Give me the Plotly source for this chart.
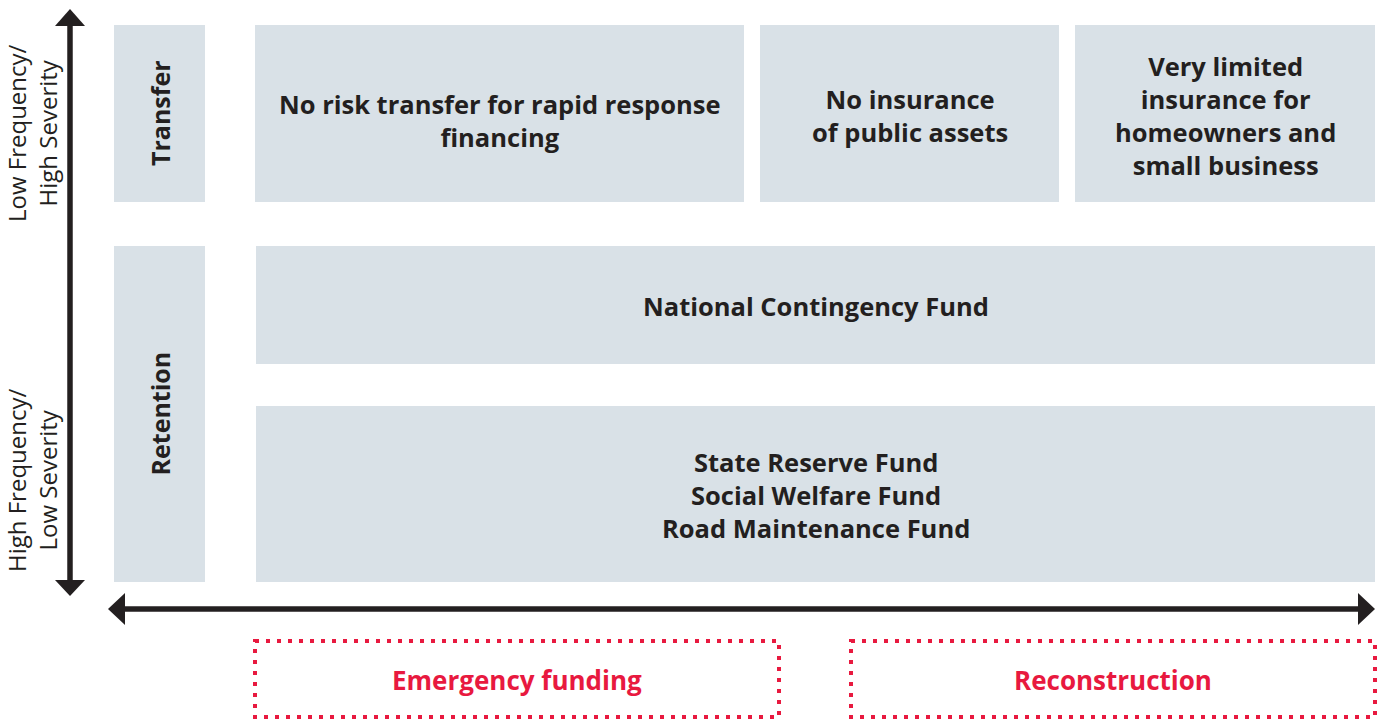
import plotly.graph_objects as go

# diagram content
side_labels = ["Transfer", "Retention"]
transfer_items = ["No risk transfer for rapid response<br>financing",
                  "No insurance<br>of public assets",
                  "Very limited<br>insurance for<br>homeowners and<br>small business"]
retention_items = ["National Contingency Fund",
                   "State Reserve Fund<br>Social Welfare Fund<br>Road Maintenance Fund"]
axis_labels = ["Low Frequency/<br>High Severity", "High Frequency/<br>Low Severity"]
phases = ["Emergency funding", "Reconstruction"]

W, H = 1381, 719
BOX = "#D9E1E7"
INK = "#231F20"
RED = "#E8193F"
FONT = "Open Sans"

# box geometry (x0, x1, y0, y1) in pixels, y downward
side_boxes = [(114, 205, 25, 202), (114, 205, 246, 582)]
transfer_boxes = [(255, 744, 25, 202), (760, 1059, 25, 202), (1075, 1375, 25, 202)]
retention_boxes = [(256, 1375, 246, 364), (256, 1375, 406, 582)]
phase_boxes = [(255, 779, 641, 717), (851, 1375, 641, 717)]
# small vertical nudges of the text inside each content box
text_nudge = [7, 2, 2, 1, 1]

fig = go.Figure()
shapes = []
annotations = []

def box(b, fill):
    shapes.append(dict(type="rect", x0=b[0], x1=b[1], y0=b[2], y1=b[3],
                       fillcolor=fill, line=dict(width=0), layer="below"))

def text(x, y, s, size, color, bold=True, angle=0):
    annotations.append(dict(x=x, y=y, text=f"<b>{s}</b>" if bold else s,
                            showarrow=False, textangle=angle,
                            font=dict(family=FONT, size=size, color=color),
                            xanchor="center", yanchor="middle"))

for b, lab in zip(side_boxes, side_labels):
    box(b, BOX)
    text((b[0] + b[1]) / 2, (b[2] + b[3]) / 2, lab, 25, INK, angle=-90)

for b, lab, dy in zip(transfer_boxes + retention_boxes, transfer_items + retention_items, text_nudge):
    box(b, BOX)
    text((b[0] + b[1]) / 2, (b[2] + b[3]) / 2 + dy, lab, 25.5, INK)

for b, lab in zip(phase_boxes, phases):
    shapes.append(dict(type="rect", x0=b[0], x1=b[1], y0=b[2], y1=b[3],
                       fillcolor="rgba(0,0,0,0)",
                       line=dict(color=RED, width=4, dash="4px,7px")))
    text((b[0] + b[1]) / 2, (b[2] + b[3]) / 2 + 1, lab, 26, RED)

# axis labels on the left
text(32, 133, axis_labels[0], 24, INK, bold=False, angle=-90)
text(32, 480, axis_labels[1], 24, INK, bold=False, angle=-90)

# vertical double arrow
shapes.append(dict(type="line", x0=70, x1=70, y0=22, y1=584,
                   line=dict(color=INK, width=5.5)))
shapes.append(dict(type="path", path="M 70 9 L 55 26 L 85 26 Z",
                   fillcolor=INK, line=dict(width=0)))
shapes.append(dict(type="path", path="M 70 596 L 55 580 L 85 580 Z",
                   fillcolor=INK, line=dict(width=0)))
# horizontal double arrow
shapes.append(dict(type="line", x0=120, x1=1362, y0=609, y1=609,
                   line=dict(color=INK, width=5.5)))
shapes.append(dict(type="path", path="M 108 609 L 125 593 L 125 625 Z",
                   fillcolor=INK, line=dict(width=0)))
shapes.append(dict(type="path", path="M 1375 609 L 1358 593 L 1358 625 Z",
                   fillcolor=INK, line=dict(width=0)))

fig.update_layout(
    width=W, height=H,
    margin=dict(l=0, r=0, t=0, b=0),
    paper_bgcolor="white", plot_bgcolor="white",
    xaxis=dict(range=[0, W], visible=False, fixedrange=True),
    yaxis=dict(range=[H, 0], visible=False, fixedrange=True),
    shapes=shapes, annotations=annotations,
    showlegend=False,
)

fig.write_html("out.html", config={"displayModeBar": False},
               post_script="document.body.style.margin='0';")
